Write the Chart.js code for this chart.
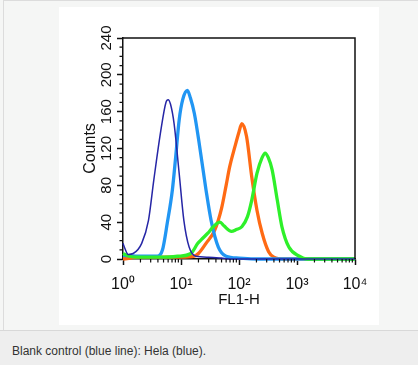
<!DOCTYPE html>
<html>
<head>
<meta charset="utf-8">
<script src="https://cdn.jsdelivr.net/npm/chart.js@4.4.1/dist/chart.umd.min.js"></script>
<style>
  html, body { margin: 0; padding: 0; }
  body { width: 418px; height: 365px; position: relative; overflow: hidden; background: #f5f6f5; font-family: "Liberation Sans", Arial, sans-serif; }
  #frame { position: absolute; left: 3px; top: 0; width: 415px; height: 330px; border-top: 1px solid #dcdcdc; border-left: 1px solid #dcdcdc; box-sizing: border-box; background: #f5f6f5; }
  #white { position: absolute; left: 59px; top: 7px; width: 320px; height: 318px; background: #ffffff; }
  #caption { position: absolute; left: 0; top: 330px; width: 418px; height: 35px; background: #eeeeee; border-top: 1px solid #d8d8d8; box-sizing: border-box; }
  #caption span { position: absolute; left: 12px; top: 13px; font-size: 12px; color: #333; white-space: nowrap; }
</style>
</head>
<body>
<div id="frame"></div>
<div id="white"><canvas id="c" width="320" height="318"></canvas></div>
<div id="caption"><span>Blank control (blue line): Hela (blue).</span></div>
<script>
// ---- data (x = FL1-H intensity, y = counts) ----
const navyX  = [1.0, 1.07, 1.23, 1.5, 2.1, 2.75, 3.4, 4.5, 5.5, 6.0, 6.6, 7.6, 9.3, 11.2, 13.8, 18, 30, 50, 70, 10000];
const navyY  = [17,  12,   5,    6,   17,  42,   86,  140, 170, 173, 168, 147, 93,  42,   13,   3,  2,  1,  0,  0];

const lightX = [1.0, 2, 3.9, 4.8, 5.8, 7.1, 8.1, 9.3, 10.7, 12.9, 14.5, 17, 21, 27, 33, 44, 60, 100, 200, 10000];
const lightY = [4,   3, 3,   10,  39,  75,  111, 151, 173,  183,  175,  158, 122, 75, 42, 13, 3, 1, 0, 0];

const orangeX = [1.0, 2, 5, 10, 17, 20, 27, 38, 50, 60, 69, 85, 100, 112, 135, 166, 204, 251, 324, 400, 600, 10000];
const orangeY = [0,   2, 2, 2,  3,  6,  17, 31, 55, 80, 100, 122, 138, 147, 133, 89, 53, 28, 8, 2, 0, 0];

const greenX = [1.0, 1.3, 2, 5, 8.7, 14.8, 19.5, 22.4, 29, 36, 47, 55, 74, 90, 112, 140, 166, 204, 250, 282, 320, 372, 457, 550, 724, 1100, 1500, 10000];
const greenY = [6,   3,   2, 2, 3,   6,    17,   21,   28, 35, 40, 36, 30, 32, 35,  46,  64,  93,  110, 115, 110, 97,  64,  35,  13,  3,    0,    0];

const xTickValues = [1, 10, 100, 1000, 10000];
const xTickLabels = ['10\u2070', '10\u00B9', '10\u00B2', '10\u00B3', '10\u2074'];
const yTickValues = [0, 40, 80, 120, 160, 200, 240];
const yMinorStep = 10;
const xMinorMultipliers = [2, 3, 4, 5, 6, 7, 8, 9];

const toPts = (xs, ys) => xs.map((x, i) => ({ x: x, y: ys[i] }));

const frameAndMinor = {
  id: 'frameAndMinor',
  afterDraw(chart) {
    const ctx = chart.ctx, ca = chart.chartArea;
    const xs = chart.scales.x, ys = chart.scales.y;
    ctx.save();
    ctx.strokeStyle = '#111';
    ctx.lineWidth = 1.5;
    ctx.beginPath();
    ctx.moveTo(ca.left, ca.top);
    ctx.lineTo(ca.right, ca.top);
    ctx.lineTo(ca.right, ca.bottom);
    ctx.stroke();
    ctx.lineWidth = 1.2;
    ctx.beginPath();
    for (let v = ys.min + yMinorStep; v < ys.max; v += yMinorStep) {
      if (yTickValues.includes(v)) continue;
      const y = ys.getPixelForValue(v);
      ctx.moveTo(ca.left - 3.5, y);
      ctx.lineTo(ca.left, y);
    }
    for (let d = 0; d < xTickValues.length - 1; d++) {
      xMinorMultipliers.forEach(k => {
        const x = xs.getPixelForValue(k * xTickValues[d]);
        ctx.moveTo(x, ca.bottom);
        ctx.lineTo(x, ca.bottom + 3.5);
      });
    }
    ctx.stroke();
    ctx.restore();
  }
};

new Chart(document.getElementById('c'), {
  type: 'line',
  data: {
    datasets: [
      { data: toPts(navyX, navyY), borderColor: '#2626a6', borderWidth: 1.5 },
      { data: toPts(greenX, greenY), borderColor: '#2ef02a', borderWidth: 3.3 },
      { data: toPts(lightX, lightY), borderColor: '#2196f3', borderWidth: 3.3 },
      { data: toPts(orangeX, orangeY), borderColor: '#ff6a14', borderWidth: 3.3 }
    ]
  },
  options: {
    responsive: false,
    animation: false,
    events: [],
    layout: { padding: { left: 0, top: 31, right: 24, bottom: 0 } },
    elements: {
      point: { radius: 0 },
      line: { cubicInterpolationMode: 'monotone', fill: false, borderJoinStyle: 'round' }
    },
    datasets: { line: { clip: 6 } },
    plugins: { legend: { display: false }, tooltip: { enabled: false } },
    scales: {
      x: {
        type: 'logarithmic',
        min: 1, max: 10000,
        afterBuildTicks: s => { s.ticks = xTickValues.map(v => ({ value: v, major: true })); },
        afterFit: s => { s.height = 66; },
        ticks: {
          autoSkip: false, maxRotation: 0, minRotation: 0, padding: 10,
          color: '#111',
          font: { family: '"Liberation Sans", Arial, sans-serif', size: 16 },
          callback: (v, i) => xTickLabels[i]
        },
        grid: { drawOnChartArea: false, drawTicks: true, tickLength: 6, tickColor: '#111', tickWidth: 1.5 },
        border: { color: '#111', width: 1.5 },
        title: {
          display: true, text: 'FL1-H', color: '#111',
          font: { family: '"Liberation Sans", Arial, sans-serif', size: 15 },
          padding: { top: 0, bottom: 16 }
        }
      },
      y: {
        min: 0, max: 240,
        afterBuildTicks: s => { s.ticks = yTickValues.map(v => ({ value: v })); },
        afterFit: s => { s.width = 64; },
        ticks: {
          autoSkip: false, minRotation: 90, maxRotation: 90, crossAlign: 'center', padding: -2,
          color: '#111',
          font: { family: '"Liberation Sans", Arial, sans-serif', size: 15 }
        },
        grid: { drawOnChartArea: false, drawTicks: true, tickLength: 6, tickColor: '#111', tickWidth: 1.5 },
        border: { color: '#111', width: 1.5 },
        title: {
          display: true, text: 'Counts', color: '#111',
          font: { family: '"Liberation Sans", Arial, sans-serif', size: 16 },
          padding: { top: 22, bottom: 0 }
        }
      }
    }
  },
  plugins: [frameAndMinor]
});
</script>
</body>
</html>
